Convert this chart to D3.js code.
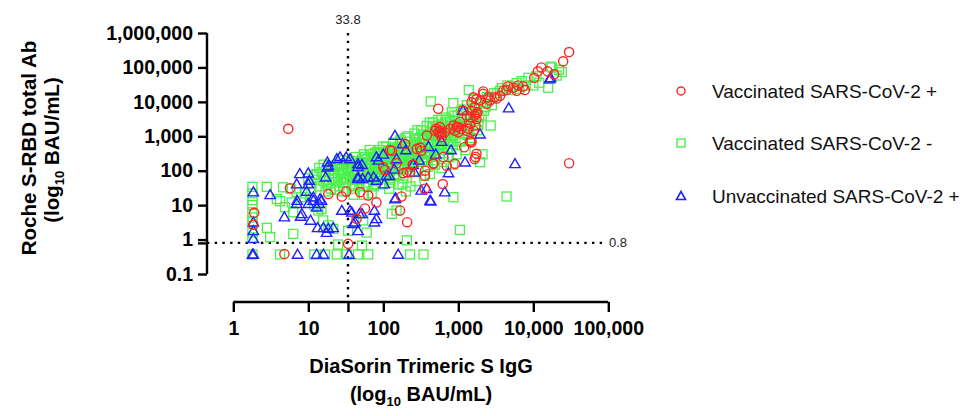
<!DOCTYPE html>
<html><head><meta charset="utf-8">
<script src="https://cdn.jsdelivr.net/npm/d3@7"></script>
<style>body{margin:0;background:#fff}svg{display:block}text{font-family:"Liberation Sans",Arial,sans-serif}</style>
</head><body><svg id="c" width="972" height="416"></svg>
<script>
// ---------- data (BAU/mL) ----------
const seriesNames = ["Vaccinated SARS-CoV-2 +", "Vaccinated SARS-CoV-2 -", "Unvaccinated SARS-CoV-2 +"];
const xTicks = [1, 10, 100, 1000, 10000, 100000];
const yTicks = [0.1, 1, 10, 100, 1000, 10000, 100000, 1000000];
const xCutoff = 33.8;
const yCutoff = 0.8;

const vaccNeg = [
 [1.8,34],[1.8,22],[1.8,14],[1.8,10],[1.8,6.2],[1.8,4.4],[1.8,3.2],[1.8,1.6],[1.8,1.15],[1.8,0.37],
 [2.8,34],[3.8,15],[4.2,13],[4.6,33],[4.9,8.7],[6.3,6.2],[2.8,2.2],[6.3,1.46],[3.1,1.17],[5.8,30],[7,24],[8,17],[9,22],[6,12],[11,14],[12,10],[13.6,7],[15,7.8],[15.8,3.6],[18.5,2.6],[21.5,2.05],
 [4.2,0.37],[12,0.37],[16.7,0.37],[24,0.37],[32.6,0.37],[46,0.37],[63,0.37],[227,0.37],[343,0.37],[25,0.72],[52,0.67],[206,0.95],
 [10,60],[11,45],[12,75],[13,55],[14,35],[15,90],[16,50],[17,70],[18,40],[19,100],[20,30],[21,60],[22,85],[23,45],[24,130],[25,70],[26,35],[27,55],[28,110],[29,25],[30,80],[30,160],[26,200],[16,150],[20,140],
 [11,30],[13,80],[14,120],[17,25],[19,55],[21,110],[23,28],[25,160],[27,90],[29,45],
 [32,45],[33,120],[35,200],[36,60],[38,90],[40,150],[41,30],[43,250],[45,110],[46,70],[48,40],[50,180],[52,95],[55,300],[56,60],[58,140],[60,220],[62,35],[64,110],[66,400],[68,75],[70,170],[72,250],[74,50],[76,130],[78,330],[80,90],[82,200],[85,60],[88,150],[90,400],[93,110],[95,260],[98,40],[100,180],[40,20],[55,20],[70,22],[34,1.8],[60,1.6],[54,3.6],
 [38,40],[44,55],[62,90],[75,35],[92,70],[36,130],[52,210],[66,150],[84,300],
 [31,60],[34,100],[37,170],[39,35],[42,80],[44,190],[47,130],[49,55],[53,75],[57,250],[59,45],[61,160],[65,85],[69,300],[71,120],[73,40],[77,190],[79,65],[83,350],[87,110],[91,230],[94,75],[97,140],[99,500],
 [105,320],[108,90],[110,500],[115,150],[118,240],[120,60],[125,400],[130,120],[135,650],[140,200],[145,300],[150,80],[155,500],[160,160],[165,250],[170,800],[175,120],[180,380],[185,60],[190,200],[195,550],[200,300],[205,130],[210,1000],[215,450],[220,90],[225,220],[230,700],[240,150],[250,380],[260,1200],[270,260],[280,560],[290,100],[300,900],[130,5.6],[150,7],[160,40],[230,35],[270,50],[120,30],[200,25],
 [112,220],[140,450],[170,110],[220,170],[260,600],[125,45],[180,40],
 [102,60],[106,260],[111,140],[116,380],[122,95],[128,180],[133,300],[138,70],[147,160],[152,260],[158,420],[163,110],[168,700],[178,230],[183,330],[192,130],[198,900],[212,210],[218,350],[235,500],[245,260],[255,180],[265,800],[275,400],[285,1500],[295,220],
 [310,300],[320,1500],[330,180],[340,650],[350,1100],[360,250],[370,450],[380,2000],[390,130],[400,800],[410,350],[420,1300],[430,10300],[440,600],[450,200],[460,2500],[470,1000],[480,400],[490,150],[500,1600],[520,700],[540,3000],[560,300],[580,1200],[600,500],[620,2200],[640,180],[660,800],[680,3500],[700,1500],[720,400],[750,250],[780,2000],[800,1000],[820,5000],[850,600],[880,2800],[900,1400],[950,300],[980,4000],[860,9200],[860,17],[1050,1.9],[420,80],[600,120],[850,150],[350,70],
 [330,900],[450,1800],[560,950],[700,3000],[760,700],[640,1600],
 [305,600],[315,350],[335,1100],[345,200],[355,800],[375,300],[395,1000],[405,500],[415,2500],[435,350],[455,1200],[475,700],[495,250],[510,2000],[530,450],[550,1400],[570,600],[590,3000],[610,900],[650,400],[670,2500],[690,1100],[730,600],[770,3000],[810,1500],[840,700],[870,4000],[920,900],[960,2000],
 [1000,2200],[1050,700],[1100,5500],[1150,1200],[1200,3000],[1250,400],[1300,8000],[1380,22000],[1400,1800],[1450,4500],[1500,900],[1600,11500],[1650,2800],[1700,6500],[1800,1500],[1900,3500],[1950,177],[2000,9000],[2100,300],[2200,5500],[2400,14000],[2700,2050],[2800,8000],[3000,18000],[3300,18000],[3600,21000],[4400,17.8],[3800,25000],[4500,30000],[5000,22000],
 [1020,1500],[1080,3500],[1120,800],[1180,6000],[1220,2000],[1320,1100],[1420,3000],[1550,5000],[1750,9000],[1850,2200],[2050,4000],[2300,7000],[2600,12000],
 [5500,28000],[6000,35000],[6500,24000],[7000,40000],[8000,30000],[8600,50000],[10000,30000],[11000,55000],[12000,36000],[15800,25700],[17000,105000],[17600,100000],[20500,58000],[24000,73000],[22000,85000]
];

const vaccPos = [
 [5.4,1650],[5.7,31],[1.9,6],[1.85,2.7],[4.8,0.38],[18.5,21],[28,17.8],[32,25],[49,24],[63,19],[81,12],[57,8],[44,4],[34,0.75],
 [175,17.8],[167,7],[208,3.2],[123,400],[100,126],[105,105],[150,165],[195,600],[130,380],[247,148],[205,90],[228,90],[185,85],[280,430],[320,380],[310,470],[380,1050],[360,30],[360,100],[360,72],[465,158],[540,6300],[570,1450],
 [490,1450],[570,1200],[630,250],[465,165],[900,160],[700,140],[620,41],[250,150],
 [30000,280000],[25000,150000],[12800,100000],[11500,77000],[15500,77000],[19000,63000],[10300,50000],
 [4600,28000],[5400,25700],[6300,30000],[7300,28000],[6000,21000],[7700,22000],[4400,22000],
 [4000,21000],[3600,15000],[3050,13500],[2650,11000],[2400,8800],[2150,17000],[2150,20000],[1950,11000],[1750,12000],[1600,13500],[1500,9800],[1650,7000],[2500,13500],[3250,12500],
 [1800,5000],[1650,4000],[1750,3200],[1500,5600],[1150,5600],[1300,4000],[1750,4500],[1450,3600],
 [1450,2300],[1350,1650],[1000,1850],[860,2050],[900,1450],[780,1650],[1100,1650],[1700,2050],[1600,1450],[1050,2600],[950,1850],[660,1300],[600,1200],[1300,1450],[1000,1300],
 [570,1850],[540,1300],[600,950],[510,1650],[1450,670],[1200,480],[1450,750],[1500,670],[1750,310],[1700,250],[1650,220],
 [30000,165]
];

const unvaccPos = [
 [1.85,24],[1.85,3.2],[1.85,1.8],[1.85,1.05],[1.85,0.37],
 [3.1,20],[4.8,4.5],[7.1,13.6],[7,11],[7.9,4.7],[10.7,3.6],[10,85],[10.3,52],[9.5,25],[7,41],[7.7,81],[8.2,5.6],[10,41],
 [13.3,2.2],[15.9,2.2],[18.5,2.1],[21.5,2.2],[17.5,1.6],[10,11],[12.9,8.7],[14.3,15],[11.7,17],[14,11],[15,13.6],[11.7,13.6],
 [18,177],[18,126],[18.5,140],[17,65],[24,220],[26.5,250],[32,250],[36,220],[28,7],[38,6.2],[42,3.2],[46,1.8],[52,5.6],[36,7],[48,5.6],[81,4],[40,2.9],
 [46,65],[53,58],[46,58],[63,65],[81,52],[46,130],[52,150],[46,158],[81,250],[86,200],[74,65],
 [143,1050],[103,41],[146,16],[143,15],[76,7],[76,3.2],[180,600],[110,72],[120,72],[320,27],[380,30],[420,13.6],
 [4700,6600],[5700,158],[1230,177],[740,86],[660,24],[430,13],[17000,50000],[1950,1150],[16500,46000],[1150,5600],
 [1.8,0.37],[7.2,0.37],[12.9,0.37],[15.9,0.37],[35,0.37],[158,0.37],
 [100,300],[200,400],[300,200],[500,300],[250,150],[150,220],[400,500],[600,700],[800,400],[140,110],[260,90]
];

// ---------- chart ----------
const svg = d3.select("#c");
const x = d3.scaleLog().domain([1, 100000]).range([233.3, 608.3]);
const y = d3.scaleLog().domain([0.1, 1000000]).range([274, 33]);
const fmt = v => v < 1 ? "0.1" : d3.format(",")(v);

// reference dotted lines
svg.append("line").attr("x1", x(xCutoff)).attr("x2", x(xCutoff)).attr("y1", 33).attr("y2", 302)
  .attr("stroke", "#000").attr("stroke-width", 2.4).attr("stroke-dasharray", "2.4,5.3");
svg.append("line").attr("x1", 207).attr("x2", 602).attr("y1", y(yCutoff)).attr("y2", y(yCutoff))
  .attr("stroke", "#000").attr("stroke-width", 2.4).attr("stroke-dasharray", "2.4,5.3");
svg.append("text").attr("x", x(xCutoff)).attr("y", 24).attr("text-anchor", "middle")
  .attr("font-size", 13).attr("fill", "#222").text(String(xCutoff));
svg.append("text").attr("x", 609).attr("y", y(yCutoff) + 4.5)
  .attr("font-size", 13).attr("fill", "#222").text(String(yCutoff));

// axes
const gx = svg.append("g").attr("transform", "translate(0,302)")
  .call(d3.axisBottom(x).tickValues(xTicks.concat([xCutoff])).tickSize(10).tickSizeOuter(0).tickPadding(9)
    .tickFormat(d => d === xCutoff ? "" : fmt(d)));
const gy = svg.append("g").attr("transform", "translate(207,0)")
  .call(d3.axisLeft(y).tickValues(yTicks.concat([yCutoff])).tickSize(9).tickSizeOuter(0).tickPadding(5)
    .tickFormat(d => d === yCutoff ? "" : fmt(d)));
[gx, gy].forEach(g => {
  g.select(".domain").attr("stroke", "#000").attr("stroke-width", 2.4);
  g.selectAll(".tick line").attr("stroke", "#000").attr("stroke-width", 2.4);
  g.selectAll(".tick text").attr("font-size", 19.5).attr("font-weight", "bold").attr("fill", "#000")
    .attr("font-family", '"Liberation Sans",Arial,sans-serif');
});
gx.select(".domain").attr("d", `M${x(1)},0H${x(100000)}`);
gy.select(".domain").attr("d", `M0,${y(1000000)}V${y(0.1)}`);

// axis titles
const xt = svg.append("text").attr("text-anchor", "middle").attr("font-weight", "bold").attr("font-size", 20);
xt.append("tspan").attr("x", 421).attr("y", 373).text("DiaSorin Trimeric S IgG");
const xt2 = svg.append("text").attr("x", 421).attr("y", 401).attr("text-anchor", "middle").attr("font-weight", "bold").attr("font-size", 20);
xt2.append("tspan").text("(log");
xt2.append("tspan").attr("font-size", 13).attr("dy", 5).text("10");
xt2.append("tspan").attr("dy", -5).text(" BAU/mL)");

const yt = svg.append("text").attr("transform", "translate(36,148) rotate(-90)").attr("text-anchor", "middle")
  .attr("font-weight", "bold").attr("font-size", 20.5).text("Roche S-RBD total Ab");
const yt2 = svg.append("text").attr("transform", "translate(59,150) rotate(-90)").attr("text-anchor", "middle")
  .attr("font-weight", "bold").attr("font-size", 20.5);
yt2.append("tspan").text("(log");
yt2.append("tspan").attr("font-size", 13).attr("dy", 5).text("10");
yt2.append("tspan").attr("dy", -5).text(" BAU/mL)");

// markers
const colors = ["#ff2424", "#4cf04c", "#2020ff"];
const tri = "M0,-5.2L5.2,3.8L-5.2,3.8Z";
function drawSquares(g, data) {
  g.selectAll("rect").data(data).join("rect")
    .attr("x", d => x(d[0]) - 4.5).attr("y", d => y(d[1]) - 4.5).attr("width", 9).attr("height", 9)
    .attr("fill", "none").attr("stroke", colors[1]).attr("stroke-width", 1.3);
}
function drawTris(g, data) {
  g.selectAll("path").data(data).join("path")
    .attr("d", tri).attr("transform", d => `translate(${x(d[0])},${y(d[1])})`)
    .attr("fill", "none").attr("stroke", colors[2]).attr("stroke-width", 1.4);
}
function drawCircles(g, data) {
  g.selectAll("circle").data(data).join("circle")
    .attr("cx", d => x(d[0])).attr("cy", d => y(d[1])).attr("r", 4.6)
    .attr("fill", "none").attr("stroke", colors[0]).attr("stroke-width", 1.4);
}
drawSquares(svg.append("g"), vaccNeg);
drawTris(svg.append("g"), unvaccPos);
drawCircles(svg.append("g"), vaccPos);

// legend
const lg = svg.append("g");
const ly = [91, 143, 196];
lg.append("circle").attr("cx", 681).attr("cy", ly[0]).attr("r", 4).attr("fill", "none").attr("stroke", colors[0]).attr("stroke-width", 1.4);
lg.append("rect").attr("x", 677).attr("y", ly[1] - 4).attr("width", 8).attr("height", 8).attr("fill", "none").attr("stroke", colors[1]).attr("stroke-width", 1.4);
lg.append("path").attr("d", "M0,-4.5L4.5,3.5L-4.5,3.5Z").attr("transform", `translate(681,${ly[2]})`).attr("fill", "none").attr("stroke", colors[2]).attr("stroke-width", 1.6);
seriesNames.forEach((s, i) => {
  lg.append("text").attr("x", 712).attr("y", ly[i] + 7).attr("font-size", 19).attr("fill", "#111").text(s);
});
</script></body></html>
